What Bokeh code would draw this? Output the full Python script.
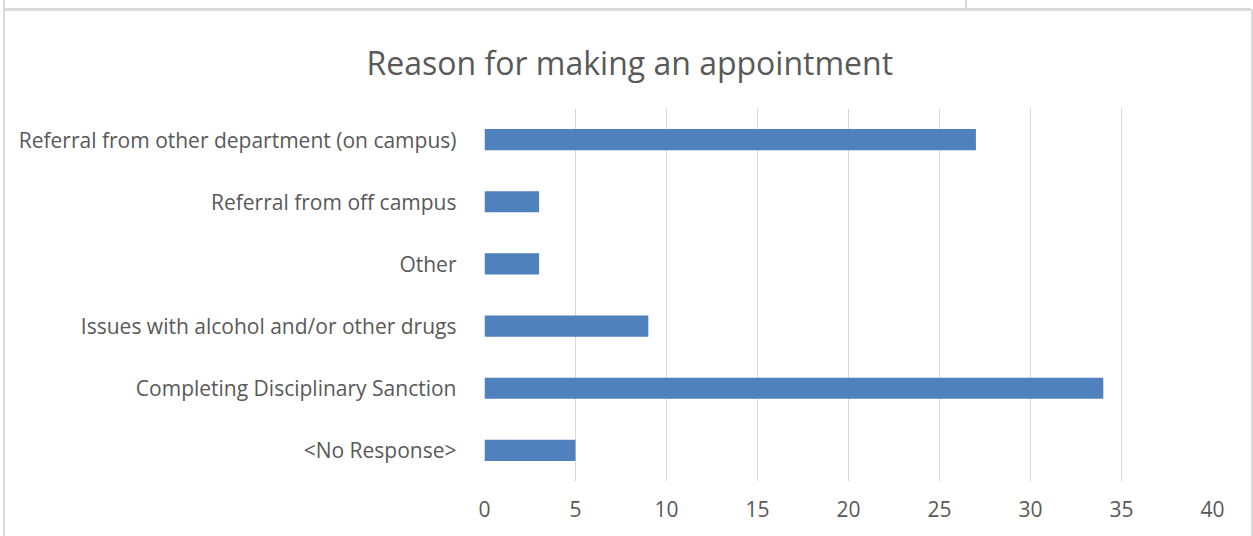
from bokeh.plotting import figure
from bokeh.models import FactorRange, Range1d, FixedTicker, Div
from bokeh.layouts import column
from bokeh.embed import file_html
from bokeh.resources import INLINE

categories = [
    "Referral from other department (on campus)",
    "Referral from off campus",
    "Other",
    "Issues with alcohol and/or other drugs",
    "Completing Disciplinary Sanction",
    "<No Response>",
]
counts = [27, 3, 3, 9, 34, 5]
x_ticks = [0, 5, 10, 15, 20, 25, 30, 35, 40]

FONT = "Open Sans"
GREY = "#595959"
BORDER = "#d9d9d9"

p = figure(
    width=1250, height=527,
    y_range=FactorRange(factors=list(reversed(categories))),
    x_range=Range1d(0, 40),
    output_backend="svg", toolbar_location=None,
    min_border_left=479, min_border_right=43,
    min_border_top=97, min_border_bottom=57,
    title="Reason for making an appointment",
)
p.title.align = "left"
p.title.offset = -118
p.title.text_font = FONT
p.title.text_font_size = "32px"
p.title.text_font_style = "normal"
p.title.text_color = GREY
p.title.standoff = 50

p.hbar(y=categories, right=counts, left=0, height=0.34,
       fill_color="#4f81bd", line_color=None)

p.outline_line_color = None
p.ygrid.grid_line_color = None
p.xgrid.grid_line_color = BORDER
p.xgrid.grid_line_width = 1

p.xaxis.ticker = FixedTicker(ticks=x_ticks)
for ax in (p.xaxis[0], p.yaxis[0]):
    ax.axis_line_color = None
    ax.major_tick_line_color = None
    ax.minor_tick_line_color = None
    ax.major_label_text_font = FONT
    ax.major_label_text_font_size = "21px"
    ax.major_label_text_color = GREY
p.xaxis.major_label_standoff = 13
p.yaxis.major_label_standoff = 22

p.styles = {"border-top": f"2px solid {BORDER}", "border-left": f"2px solid {BORDER}",
            "border-right": f"2px solid {BORDER}", "margin-left": "3px"}

strip = Div(text=f'<div style="position:absolute;left:960px;top:0;width:2px;height:9px;background:{BORDER}"></div>',
            width=1248, height=9, margin=(0, 0, 0, 3),
            styles={"border-left": f"2px solid {BORDER}", "border-bottom": f"1px solid {BORDER}",
                    "position": "relative"})

layout = column(strip, p, spacing=0)

open("out.html", "w").write(file_html(layout, INLINE))
